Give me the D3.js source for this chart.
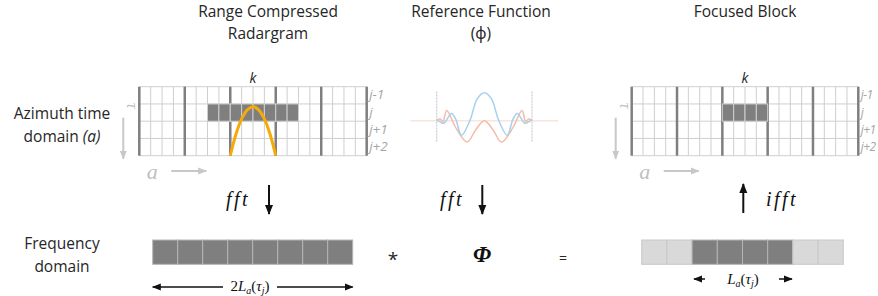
<!DOCTYPE html>
<html>
<head>
<meta charset="utf-8">
<script src="https://cdn.jsdelivr.net/npm/d3@7"></script>
<style>
  html, body { margin: 0; padding: 0; background: #fff; }
  svg { display: block; }
  .lbl { font-family: "Open Sans", "Noto Sans", sans-serif; fill: #262626; }
  .math { font-family: "Liberation Serif", "DejaVu Serif", serif; font-style: italic; fill: #111; }
</style>
</head>
<body>
<div id="chart"></div>
<script>
// Block diagram: range compressed radargram -> reference function -> focused block

// grid layout: 5 blocks of 4 columns, 4 rows
const nBlocks = 5;
const colsPerBlock = 4;
const rowLabels = ['j-1', 'j', 'j+1', 'j+2'];

// filled cells (row index, column indices)
const rcRow = 1;
const rcCells = [6, 7, 8, 9, 10, 11, 12, 13];
const focRow = 1;
const focCells = [8, 9, 10, 11];

// orange range-migration curve (column, row depth)
const parabolaCol = [8, 8.5, 9, 9.5, 10, 10.5, 11, 11.5, 12];
const parabolaRow = [4, 2.76, 1.87, 1.34, 1.16, 1.34, 1.87, 2.76, 4];

// reference function (t in [-1,1])
const refT      = [-1, -0.92, -0.85, -0.69, -0.6, -0.48, -0.3, -0.15, 0, 0.15, 0.3, 0.48, 0.6, 0.69, 0.85, 0.92, 1];
const refBlue   = [0.04, -0.05, -0.09, 0.26, 0.05, -0.52, 0.02, 0.78, 1, 0.78, 0.02, -0.52, 0.05, 0.26, -0.09, -0.05, 0.04];
const refTo     = [-1, -0.93, -0.87, -0.79, -0.6, -0.36, -0.18, 0, 0.18, 0.36, 0.6, 0.79, 0.87, 0.93, 1];
const refOrange = [0.02, 0.06, -0.04, 0.36, -0.25, -0.76, -0.32, 0.0, -0.32, -0.76, -0.25, 0.36, -0.04, 0.06, 0.02];

// frequency domain bars: d = dark, l = light
const freqLeft  = ['d', 'd', 'd', 'd', 'd', 'd', 'd', 'd'];
const freqRight = ['l', 'l', 'd', 'd', 'd', 'd', 'l', 'l'];

const W = 878, H = 296;
const svg = d3.select('#chart').append('svg')
    .attr('width', W)
    .attr('height', H)
    .attr('viewBox', [0, 0, W, H]);

const defs = svg.append('defs');
function marker(id, color, size) {
    defs.append('marker')
        .attr('id', id)
        .attr('viewBox', '0 -5 10 10')
        .attr('refX', 9)
        .attr('refY', 0)
        .attr('markerWidth', size)
        .attr('markerHeight', size)
        .attr('markerUnits', 'userSpaceOnUse')
        .attr('orient', 'auto')
        .append('path')
        .attr('d', 'M0,-4L10,0L0,4Z')
        .attr('fill', color);
}
marker('arrowBlack', '#111', 10);
marker('arrowGray', '#c8c8c8', 9);
marker('arrowDim', '#111', 9);

// ---- titles ----
const titles = [
    { x: 268, lines: ['Range Compressed', 'Radargram'] },
    { x: 481, lines: ['Reference  Function', '(\u03d5)'] },
    { x: 745, lines: ['Focused Block'] }
];
titles.forEach(t => {
    t.lines.forEach((s, i) => {
        svg.append('text').attr('class', 'lbl')
            .attr('x', t.x).attr('y', 17 + i * 22)
            .attr('text-anchor', 'middle')
            .attr('font-size', 15.5)
            .text(s);
    });
});

// ---- row labels on the left ----
const az = svg.append('text').attr('class', 'lbl')
    .attr('x', 62).attr('text-anchor', 'middle').attr('font-size', 15.5);
az.append('tspan').attr('x', 62).attr('y', 119).text('Azimuth time');
const az2 = az.append('tspan').attr('x', 62).attr('y', 142);
az2.append('tspan').text('domain ');
az2.append('tspan').attr('font-style', 'italic').text('(a)');

const fq = svg.append('text').attr('class', 'lbl')
    .attr('text-anchor', 'middle').attr('font-size', 15.5);
fq.append('tspan').attr('x', 62).attr('y', 249).text('Frequency');
fq.append('tspan').attr('x', 62).attr('y', 272).text('domain');

// ---- grid drawing ----
function drawGrid(x0, x1, row, cells, withCurve, rowFont) {
    const nCols = nBlocks * colsPerBlock;
    const x = d3.scaleLinear().domain([0, nCols]).range([x0, x1]);
    const y = d3.scaleLinear().domain([0, 4]).range([86.7, 155.7]);
    const g = svg.append('g');

    // thin lines
    g.selectAll('line.v').data(d3.range(nCols + 1).filter(c => c % colsPerBlock !== 0))
        .enter().append('line')
        .attr('x1', d => x(d)).attr('x2', d => x(d))
        .attr('y1', y(0)).attr('y2', y(4))
        .attr('stroke', '#cfcfcf').attr('stroke-width', 1);
    g.selectAll('line.h').data(d3.range(5))
        .enter().append('line')
        .attr('x1', x(0)).attr('x2', x(nCols))
        .attr('y1', d => y(d)).attr('y2', d => y(d))
        .attr('stroke', '#cfcfcf').attr('stroke-width', 1);
    // block borders
    g.selectAll('line.b').data(d3.range(0, nCols + 1, colsPerBlock))
        .enter().append('line')
        .attr('x1', d => x(d)).attr('x2', d => x(d))
        .attr('y1', y(0)).attr('y2', y(4))
        .attr('stroke', '#7f7f7f').attr('stroke-width', 2.5);

    // filled cells
    g.selectAll('rect.cell').data(cells)
        .enter().append('rect')
        .attr('x', d => x(d)).attr('y', y(row))
        .attr('width', x(1) - x(0)).attr('height', y(row + 1) - y(row))
        .attr('fill', '#7f7f7f')
        .attr('stroke', '#cfcfcf').attr('stroke-width', 1);

    if (withCurve) {
        const line = d3.line()
            .x((d, i) => x(d))
            .y((d, i) => y(parabolaRow[i]))
            .curve(d3.curveCatmullRom);
        g.append('path')
            .attr('d', line(parabolaCol))
            .attr('fill', 'none')
            .attr('stroke', '#f5a90a')
            .attr('stroke-width', 3);
    }

    // k label
    g.append('text').attr('class', 'lbl')
        .attr('x', x(nCols / 2)).attr('y', 83)
        .attr('text-anchor', 'middle')
        .attr('font-size', 14).attr('font-style', 'italic')
        .attr('fill', '#111')
        .text('k');

    // row labels
    g.selectAll('text.row').data(rowLabels)
        .enter().append('text').attr('class', 'lbl')
        .attr('x', x(nCols) + 2.5)
        .attr('y', (d, i) => y(i + 0.5) + 4)
        .attr('font-size', rowFont).attr('font-style', 'italic')
        .attr('letter-spacing', rowFont < 13 ? -0.6 : 0)
        .style('fill', '#a6a6a6')
        .text(d => d);

    // tau axis
    const tx = x0 - 16;
    g.append('text').attr('class', 'math')
        .attr('transform', `translate(${tx + 4},${y(0) + 19}) rotate(90)`)
        .attr('text-anchor', 'middle')
        .attr('font-size', 17)
        .style('fill', '#bfbfbf')
        .text('\u03c4');
    g.append('line')
        .attr('x1', tx).attr('x2', tx)
        .attr('y1', y(0) + 31).attr('y2', y(4) + 3)
        .attr('stroke', '#c8c8c8').attr('stroke-width', 2)
        .attr('marker-end', 'url(#arrowGray)');

    // a axis
    g.append('text').attr('class', 'math')
        .attr('x', x0 + 13).attr('y', 179)
        .attr('text-anchor', 'middle')
        .attr('font-size', 22)
        .style('fill', '#bfbfbf')
        .text('a');
    g.append('line')
        .attr('x1', x0 + 32).attr('x2', x0 + 67)
        .attr('y1', 171).attr('y2', 171)
        .attr('stroke', '#c8c8c8').attr('stroke-width', 2)
        .attr('marker-end', 'url(#arrowGray)');
}

drawGrid(139.3, 366.7, rcRow, rcCells, true, 13.5);
drawGrid(631.7, 858.3, focRow, focCells, false, 12);

// ---- reference function ----
const rx = d3.scaleLinear().domain([-1, 1]).range([436.7, 532]);
const ry = d3.scaleLinear().domain([-1, 1]).range([148.7, 92.7]);
const ref = svg.append('g');
ref.append('line')
    .attr('x1', rx(-1.55)).attr('x2', rx(1.55))
    .attr('y1', ry(0)).attr('y2', ry(0))
    .attr('stroke', '#fbe4dc').attr('stroke-width', 1.5);
ref.selectAll('line.dash').data([-1, 1])
    .enter().append('line')
    .attr('x1', d => rx(d)).attr('x2', d => rx(d))
    .attr('y1', ry(1.04)).attr('y2', ry(-0.75))
    .attr('stroke', '#cdcdcd').attr('stroke-width', 1.2)
    .attr('stroke-dasharray', '2,1');
const refLine = d3.line().curve(d3.curveCatmullRom);
ref.append('path')
    .attr('d', refLine(refTo.map((t, i) => [rx(t), ry(refOrange[i])])))
    .attr('fill', 'none').attr('stroke', '#f4bba7').attr('stroke-width', 1.5);
ref.append('path')
    .attr('d', refLine(refT.map((t, i) => [rx(t), ry(refBlue[i])])))
    .attr('fill', 'none').attr('stroke', '#a6d1ee').attr('stroke-width', 1.5);

// ---- fft arrows ----
const ops = [
    { label: 'fft', tx: 238, ax: 269, dir: 'down' },
    { label: 'fft', tx: 452, ax: 482.3, dir: 'down' },
    { label: 'ifft', tx: 782, ax: 743.3, dir: 'up' }
];
ops.forEach(o => {
    svg.append('text').attr('class', 'math')
        .attr('x', o.tx).attr('y', 206)
        .attr('text-anchor', 'middle')
        .attr('font-size', 20)
        .attr('letter-spacing', 2.5)
        .text(o.label);
    svg.append('line')
        .attr('x1', o.ax).attr('x2', o.ax)
        .attr('y1', o.dir === 'down' ? 185 : 213)
        .attr('y2', o.dir === 'down' ? 214 : 184)
        .attr('stroke', '#111').attr('stroke-width', 2)
        .attr('marker-end', 'url(#arrowBlack)');
});

// ---- frequency domain bars ----
function drawBar(x0, x1, cells) {
    const x = d3.scaleLinear().domain([0, cells.length]).range([x0, x1]);
    svg.append('g').selectAll('rect').data(cells)
        .enter().append('rect')
        .attr('x', (d, i) => x(i)).attr('y', 240)
        .attr('width', x(1) - x(0)).attr('height', 24.3)
        .attr('fill', d => d === 'd' ? '#7f7f7f' : '#d9d9d9')
        .attr('stroke', d => d === 'd' ? '#b5b5b5' : '#c9c9c9')
        .attr('stroke-width', 1);
}
drawBar(152.7, 352.7, freqLeft);
drawBar(641.7, 843.3, freqRight);

// dimension arrows
function dimArrow(xa, xb, y) {
    svg.append('line')
        .attr('x1', xa).attr('x2', xb).attr('y1', y).attr('y2', y)
        .attr('stroke', '#111').attr('stroke-width', 1.5)
        .attr('marker-end', 'url(#arrowDim)');
}
dimArrow(223, 152.7, 287);
dimArrow(277, 352.7, 287);
dimArrow(705, 694, 279);
dimArrow(779, 792, 279);

function dimLabel(x, y, prefix) {
    const t = svg.append('text').attr('class', 'math')
        .attr('x', x).attr('y', y).attr('text-anchor', 'middle')
        .attr('font-size', 15);
    t.append('tspan').attr('font-style', 'normal').text(prefix);
    t.append('tspan').text('L');
    t.append('tspan').attr('font-size', 10).attr('dy', 3).text('a');
    t.append('tspan').attr('font-style', 'normal').attr('dy', -3).text('(');
    t.append('tspan').text('\u03c4');
    t.append('tspan').attr('font-size', 10).attr('dy', 3).text('j');
    t.append('tspan').attr('font-style', 'normal').attr('dy', -3).text(')');
}
dimLabel(250, 291, '2');
dimLabel(743, 284, '');

// operators
svg.append('text').attr('class', 'lbl')
    .attr('x', 393).attr('y', 266).attr('text-anchor', 'middle')
    .attr('font-size', 19).text('*');
svg.append('text').attr('class', 'math')
    .attr('x', 482).attr('y', 262).attr('text-anchor', 'middle')
    .attr('font-size', 23).attr('font-weight', 'bold')
    .text('\u03a6');
svg.append('text').attr('class', 'lbl')
    .attr('x', 563).attr('y', 263).attr('text-anchor', 'middle')
    .attr('font-size', 14).text('=');
</script>
</body>
</html>
